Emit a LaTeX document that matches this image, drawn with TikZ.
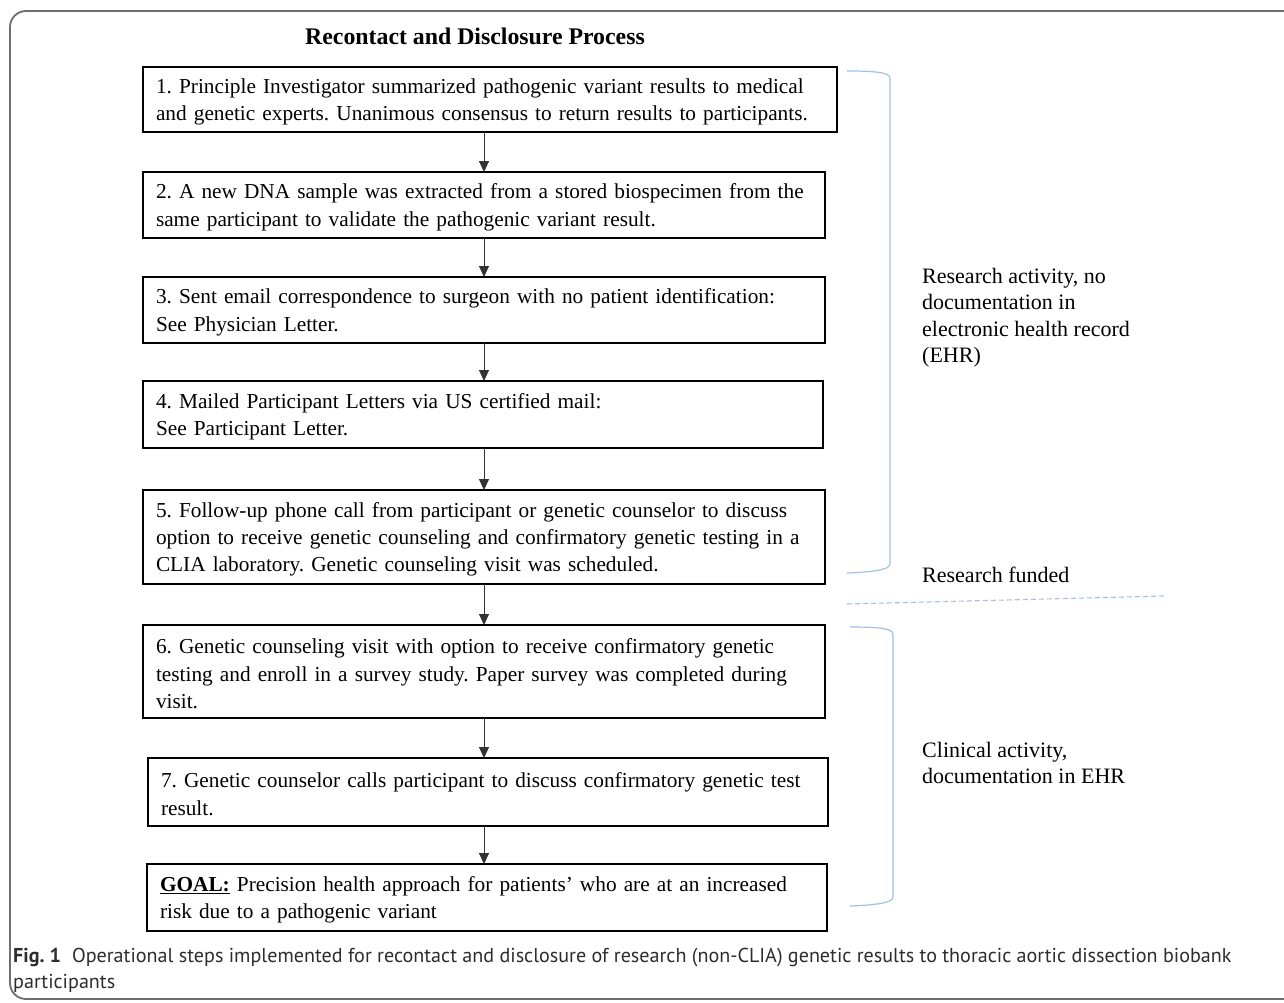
\documentclass[tikz,border=0pt]{standalone}
\usepackage{fontspec}
\setmainfont{Liberation Serif}
\newfontfamily\capfont{PT Sans}
\usetikzlibrary{arrows.meta}
\definecolor{brkblue}{RGB}{157,195,230}
\definecolor{framegray}{RGB}{110,110,110}
\definecolor{captext}{RGB}{45,45,45}
\newcommand{\firstln}{\rule{0pt}{19.5pt}}
\frenchspacing
\begin{document}
\begin{tikzpicture}[x=1pt,y=-1pt,
  stepbox/.style={draw=black, line width=1.3pt, rectangle, anchor=north west, align=left,
    inner xsep=13pt, inner ysep=0pt, outer sep=0pt, font=\fontsize{21.3}{27.3}\selectfont},
  arr/.style={draw=black!80, line width=0.9pt, -{Triangle[length=11pt,width=10pt]}},
  brk/.style={draw=brkblue, line width=1.2pt},
  sidelabel/.style={anchor=north west, align=left, inner sep=0pt, font=\fontsize{22}{26.3}\selectfont}]
\clip (0,0) rectangle (1284,1002);
\fill[white] (0,0) rectangle (1284,1002);
\draw[framegray, line width=1.8pt, rounded corners=16pt] (10,11) rectangle (1320,999);

\node[font=\fontsize{23.8}{28}\selectfont\bfseries, inner sep=0pt] (title) at (475,36) {Recontact and Disclosure Process};

\node[stepbox, text width=668, minimum height=65] (b1) at (143,67)
 {\firstln 1. Principle Investigator summarized pathogenic variant results to medical\\and genetic experts. Unanimous consensus to return results to participants.};
\node[stepbox, text width=656, minimum height=66] (b2) at (143,172)
 {\firstln 2. A new DNA sample was extracted from a stored biospecimen from the\\same participant to validate the pathogenic variant result.};
\node[stepbox, text width=656, minimum height=66] (b3) at (143,277)
 {\firstln 3. Sent email correspondence to surgeon with no patient identification:\\See Physician Letter.};
\node[stepbox, text width=654, minimum height=67] (b4) at (143,381)
 {\firstln 4. Mailed Participant Letters via US certified mail:\\See Participant Letter.};
\node[stepbox, text width=656, minimum height=94] (b5) at (143,490)
 {\firstln 5. Follow-up phone call from participant or genetic counselor to discuss\\option to receive genetic counseling and confirmatory genetic testing in a\\CLIA laboratory. Genetic counseling visit was scheduled.};
\node[stepbox, text width=656, minimum height=93] (b6) at (143,625)
 {\firstln 6. Genetic counseling visit with option to receive confirmatory genetic\\testing and enroll in a survey study. Paper survey was completed during\\visit.};
\node[stepbox, text width=654, minimum height=68] (b7) at (148,758)
 {\firstln 7. Genetic counselor calls participant to discuss confirmatory genetic test\\result.};
\node[stepbox, text width=654, minimum height=67] (goal) at (147,864)
 {\firstln\textbf{\underline{GOAL:}} Precision health approach for patients’ who are at an increased\\risk due to a pathogenic variant};

\coordinate (ax) at (484,0);
\draw[arr] (b1.south -| ax) -- (b2.north -| ax);
\draw[arr] (b2.south -| ax) -- (b3.north -| ax);
\draw[arr] (b3.south -| ax) -- (b4.north -| ax);
\draw[arr] (b4.south -| ax) -- (b5.north -| ax);
\draw[arr] (b5.south -| ax) -- (b6.north -| ax);
\draw[arr] (b6.south -| ax) -- (b7.north -| ax);
\draw[arr] (b7.south -| ax) -- (goal.north -| ax);

\draw[brk] (847,71) .. controls (872,71) and (890,72) .. (890,78) -- (890,564) .. controls (890,570) and (872,572) .. (847,573);
\draw[brk] (850,627) .. controls (875,627) and (893,628) .. (893,634) -- (893,897) .. controls (893,903) and (875,905) .. (850,906);
\draw[brkblue, line width=1.1pt, dash pattern=on 5pt off 3pt] (847,604) -- (1164,596);

\node[sidelabel] (lab1) at (922,268) {Research activity, no\\documentation in\\electronic health record\\(EHR)};
\node[sidelabel] (lab2) at (922,567) {Research funded};
\node[sidelabel] (lab3) at (922,742) {Clinical activity,\\documentation in EHR};

\node[anchor=north west, align=left, inner sep=0pt, text=captext,
  font=\capfont\fontsize{20.1}{26}\selectfont] (cap) at (13,948)
 {\textbf{Fig. 1}\hspace{0.55em}Operational steps implemented for recontact and disclosure of research (non-CLIA) genetic results to thoracic aortic dissection biobank\\participants};
\end{tikzpicture}
\end{document}
